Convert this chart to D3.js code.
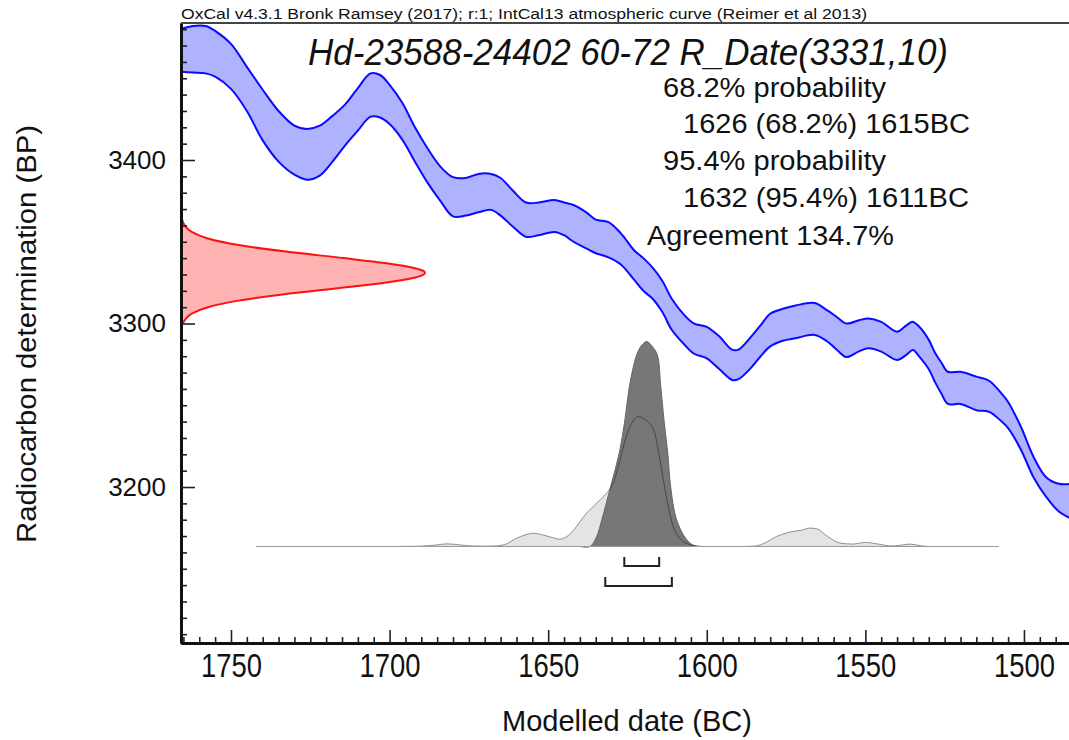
<!DOCTYPE html>
<html><head><meta charset="utf-8">
<script src="https://cdn.jsdelivr.net/npm/d3@7"></script>
<style>
html,body{margin:0;padding:0;background:#fff;}
svg{display:block;}
text{font-family:"Liberation Sans",Arial,Helvetica,sans-serif;fill:#111;}
</style>
</head><body>
<svg id="chart" width="1069" height="740"></svg>
<script>
// ---------------- DATA ----------------
const headerText = "OxCal v4.3.1 Bronk Ramsey (2017); r:1; IntCal13 atmospheric curve (Reimer et al 2013)";
const titleText = "Hd-23588-24402 60-72 R_Date(3331,10)";
const infoLines = ["68.2% probability", "1626 (68.2%) 1615BC", "95.4% probability", "1632 (95.4%) 1611BC", "Agreement 134.7%"];
const xAxisTitle = "Modelled date (BC)";
const yAxisTitle = "Radiocarbon determination (BP)";
const xTickValues = [1750, 1700, 1650, 1600, 1550, 1500];
const yTickValues = [3200, 3300, 3400];

// IntCal13 calibration band (calendar year BC, upper and lower BP edges)
const curveYears = [1766,1762,1758,1755,1750,1745,1740,1735,1730,1726,1722,1718,1714,1710,1706,1703,1700,1696,1692,1688,1684,1680,1676,1672,1668,1665,1661,1657,1653,1648,1645,1642,1638,1635,1631,1627,1623,1620,1617,1614,1611,1607,1604,1600,1596,1592,1590,1586,1583,1580,1576,1572,1566,1562,1559,1556,1552,1549,1545,1540,1537,1535,1533,1530,1528,1526,1524,1520,1515,1511,1507,1505,1501,1497,1493,1489,1485];
const curveUpper = [3480,3482,3482,3479,3471,3457,3443,3430,3421,3419,3421,3427,3434,3444,3453,3452,3446,3435,3420,3407,3396,3389.5,3389,3391.5,3391.5,3389,3381,3374,3374,3375.5,3374,3372.5,3368,3363.5,3362,3355,3345,3340,3334,3326,3315,3305,3300,3298,3292,3284,3284,3292,3299,3306,3309,3311,3312.5,3308,3304,3300,3302,3303,3301,3295,3299,3301,3298,3290,3282,3276,3270.5,3270.5,3267.5,3265,3257,3252,3237,3218.5,3206,3202,3202];
const curveLower = [3454,3453.5,3453,3451,3443.5,3430,3412,3399,3391,3388,3390.5,3399,3409,3418,3426.5,3426,3422,3412.5,3399,3386,3375,3365.5,3366,3368,3369.5,3366,3359,3353,3354,3356,3354,3350,3346,3343,3340.5,3336,3327,3320,3315,3307,3296,3287,3281.5,3278.7,3272,3265.5,3266,3273,3280,3286,3289.5,3291,3293,3289,3284,3279.5,3283,3284.8,3282.8,3277.7,3281,3283.8,3279.7,3272,3264,3257,3250.8,3250.8,3247,3246,3240,3236,3223,3206,3194,3185,3180.5];

// Radiocarbon measurement R_Date(3331,10): BP and relative probability
const rDateBP   = [3368,3364,3360,3356,3352,3348,3344,3340,3337,3334,3332,3331,3330,3328,3325,3322,3318,3314,3310,3306,3302,3300];
const rDateProb = [0.001,0.004,0.015,0.044,0.11,0.236,0.43,0.667,0.835,0.956,0.995,1,0.995,0.956,0.835,0.667,0.43,0.236,0.11,0.044,0.015,0.008];

// Likelihood (light grey) calendar distribution
const likeYears = [1742,1700,1690,1685,1682,1679,1676,1672,1668,1664,1660,1657,1654.7,1652,1649,1646.3,1644,1642,1640,1637.9,1635.8,1633.5,1631.6,1629.5,1627.4,1625.5,1624.2,1622.5,1621.4,1620,1618,1616.5,1614.5,1612.6,1610.6,1609,1607.4,1605.5,1604,1600,1590,1585,1582,1578,1574,1570,1567.5,1565,1563.3,1560.5,1558,1554,1550,1546,1542,1539,1536,1533,1530,1520,1508];
const likeProb  = [0,0,0.002,0.008,0.013,0.01,0.005,0.002,0.002,0.008,0.04,0.058,0.065,0.058,0.045,0.036,0.05,0.08,0.12,0.163,0.195,0.23,0.26,0.31,0.42,0.53,0.585,0.625,0.634,0.625,0.6,0.56,0.4,0.23,0.098,0.05,0.024,0.01,0.003,0,0,0.002,0.015,0.049,0.07,0.08,0.09,0.085,0.065,0.035,0.017,0.012,0.02,0.012,0.003,0.006,0.012,0.005,0,0,0];

// Posterior (dark grey) calendar distribution
const postYears = [1640,1636.8,1634.7,1633.1,1630.3,1627.6,1625.8,1624.4,1622.1,1620.5,1618.9,1617.3,1615.6,1614.5,1613.5,1612.3,1611.4,1609.5,1606.3,1604,1600];
const postProb  = [0,0,0.049,0.13,0.293,0.456,0.618,0.78,0.935,0.982,1,0.978,0.935,0.78,0.618,0.456,0.293,0.13,0.033,0.005,0];

const distRange = [1742, 1508];
const range68 = [1626, 1615];
const range95 = [1632, 1611];

// ---------------- LAYOUT ----------------
const plot = {left: 181, right: 1069, top: 23, bottom: 643};
const svg = d3.select("#chart");

const x = d3.scaleLinear().domain([1765.76, 1485.8]).range([plot.left, plot.right]);
const y = d3.scaleLinear().domain([3104.6, 3483.8]).range([plot.bottom, plot.top]);
const rWidth = d3.scaleLinear().domain([0, 1]).range([0, 244]);
const distY = d3.scaleLinear().domain([0, 1]).range([546.5, 341.5]);

svg.append("defs").append("clipPath").attr("id", "clip")
  .append("rect").attr("x", plot.left).attr("y", plot.top)
  .attr("width", plot.right - plot.left).attr("height", plot.bottom - plot.top);

const g = svg.append("g").attr("clip-path", "url(#clip)");

// Calibration band
const band = curveYears.map((yr, i) => ({yr, hi: curveUpper[i], lo: curveLower[i]}));
const crv = d3.curveCatmullRom.alpha(0.5);
g.append("path").datum(band)
  .attr("d", d3.area().x(d => x(d.yr)).y0(d => y(d.lo)).y1(d => y(d.hi)).curve(crv))
  .attr("fill", "#aeb2ff").attr("stroke", "none");
["hi", "lo"].forEach(k => {
  g.append("path").datum(band)
    .attr("d", d3.line().x(d => x(d.yr)).y(d => y(d[k])).curve(crv))
    .attr("fill", "none").attr("stroke", "#0a0aff").attr("stroke-width", 2);
});

// Red R_Date distribution on the y-axis
const rd = rDateBP.map((bp, i) => ({bp, p: rDateProb[i]}));
g.append("path").datum(rd)
  .attr("d", d3.area().y(d => y(d.bp)).x0(plot.left).x1(d => plot.left + rWidth(d.p)).curve(d3.curveMonotoneY))
  .attr("fill", "#ffb3b3");
g.append("path").datum(rd)
  .attr("d", d3.line().y(d => y(d.bp)).x(d => plot.left + rWidth(d.p)).curve(d3.curveMonotoneY))
  .attr("fill", "none").attr("stroke", "#ff1010").attr("stroke-width", 2);

// Calendar distributions
const like = likeYears.map((yr, i) => ({yr, p: likeProb[i]}));
const post = postYears.map((yr, i) => ({yr, p: postProb[i]}));
const dArea = d3.area().x(d => x(d.yr)).y0(distY(0)).y1(d => distY(d.p)).curve(d3.curveMonotoneX);
const dLine = d3.line().x(d => x(d.yr)).y(d => distY(d.p)).curve(d3.curveMonotoneX);
const pArea = d3.area().x(d => x(d.yr)).y0(distY(0)).y1(d => distY(d.p)).curve(d3.curveCatmullRom.alpha(0.5));
const pLine = d3.line().x(d => x(d.yr)).y(d => distY(d.p)).curve(d3.curveCatmullRom.alpha(0.5));

g.append("path").datum(like).attr("d", dArea).attr("fill", "#e4e4e4");
g.append("path").datum(post).attr("d", pArea).attr("fill", "#777777");
g.append("path").datum(post).attr("d", pLine).attr("fill", "none").attr("stroke", "#666").attr("stroke-width", 1);
g.append("path").datum(like).attr("d", dLine).attr("fill", "none").attr("stroke", "rgba(0,0,0,0.4)").attr("stroke-width", 1);
g.append("line")
  .attr("x1", x(distRange[0])).attr("x2", x(distRange[1]))
  .attr("y1", distY(0)).attr("y2", distY(0))
  .attr("stroke", "#9a9a9a").attr("stroke-width", 1.2);

// Range brackets
function bracket(r, yBase) {
  const p = d3.path();
  p.moveTo(x(r[0]), yBase - 9); p.lineTo(x(r[0]), yBase); p.lineTo(x(r[1]), yBase); p.lineTo(x(r[1]), yBase - 9);
  svg.append("path").attr("d", p.toString()).attr("fill", "none").attr("stroke", "#222").attr("stroke-width", 2);
}
bracket(range68, 566);
bracket(range95, 586);

// Axes
const yMinor = d3.range(3110, 3484, 10).filter(v => v % 100 !== 0);
const xMinor = d3.range(1765, 1485, -5).filter(v => v % 50 !== 0);

const xMinorAx = svg.append("g").attr("transform", `translate(0,${plot.bottom})`)
  .call(d3.axisBottom(x).tickValues(xMinor).tickSize(-6).tickSizeOuter(0).tickFormat(""));
const xAx = svg.append("g").attr("transform", `translate(0,${plot.bottom})`)
  .call(d3.axisBottom(x).tickValues(xTickValues).tickSize(-13).tickSizeOuter(0).tickPadding(10).tickFormat(d3.format("d")));
const yMinorAx = svg.append("g").attr("transform", `translate(${plot.left},0)`)
  .call(d3.axisLeft(y).tickValues(yMinor).tickSize(-6).tickSizeOuter(0).tickFormat(""));
const yAx = svg.append("g").attr("transform", `translate(${plot.left},0)`)
  .call(d3.axisLeft(y).tickValues(yTickValues).tickSize(-14).tickSizeOuter(0).tickPadding(15).tickFormat(d3.format("d")));

[xMinorAx, xAx, yMinorAx, yAx].forEach(a => {
  a.selectAll(".tick line").attr("stroke", "#222").attr("stroke-width", 1.6);
  a.select(".domain").attr("stroke", "#111").attr("stroke-width", 3);
});
xAx.selectAll("text").attr("font-size", 34).attr("fill", "#111")
  .attr("textLength", 61).attr("lengthAdjust", "spacingAndGlyphs")
  .style("font-family", '"Liberation Sans Narrow","Liberation Sans",Arial,sans-serif');
yAx.selectAll("text").attr("font-size", 26).attr("fill", "#111");

// Top frame line
svg.append("line").attr("x1", plot.left).attr("x2", plot.right)
  .attr("y1", plot.top).attr("y2", plot.top)
  .attr("stroke", "#444").attr("stroke-width", 2);

// Texts
svg.append("text").attr("x", plot.left).attr("y", 19).text(headerText)
  .attr("font-size", 14).attr("fill", "#222")
  .attr("textLength", 686).attr("lengthAdjust", "spacingAndGlyphs");

svg.append("text").attr("x", 308).attr("y", 65).text(titleText)
  .attr("font-size", 36).attr("font-style", "italic")
  .attr("textLength", 640).attr("lengthAdjust", "spacingAndGlyphs");

const infoX = [663, 683, 663, 683, 647];
const infoY = [97, 133, 170, 207, 245];
const infoLen = [223, 287, 223, 286, 247];
infoLines.forEach((t, i) => {
  svg.append("text").attr("x", infoX[i]).attr("y", infoY[i]).text(t)
    .attr("font-size", 27).attr("textLength", infoLen[i]).attr("lengthAdjust", "spacingAndGlyphs");
});

svg.append("text").attr("x", 627).attr("y", 731).attr("text-anchor", "middle").text(xAxisTitle)
  .attr("font-size", 30).attr("textLength", 250).attr("lengthAdjust", "spacingAndGlyphs");

svg.append("text").attr("transform", "translate(36,334) rotate(-90)").attr("text-anchor", "middle").text(yAxisTitle)
  .attr("font-size", 27).attr("textLength", 418).attr("lengthAdjust", "spacingAndGlyphs");
</script>
</body></html>
